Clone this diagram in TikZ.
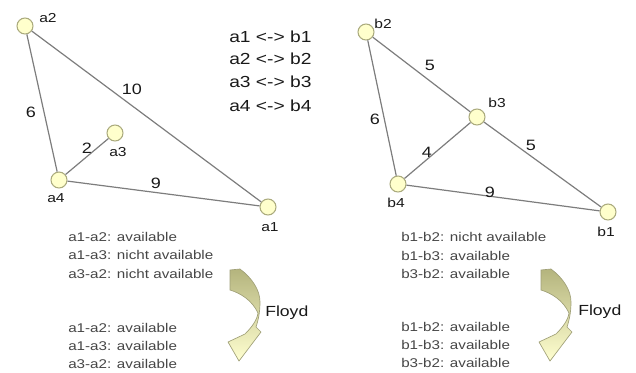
\documentclass[tikz,border=0pt]{standalone}
\usepackage{fontspec}
\setmainfont[FakeStretch=1.2]{Liberation Sans}
\definecolor{edgegray}{RGB}{125,125,125}
\definecolor{vfill}{RGB}{255,255,204}
\definecolor{vdraw}{RGB}{170,170,125}
\definecolor{arrdark}{RGB}{180,180,125}
\definecolor{arrmid}{RGB}{215,215,160}
\definecolor{arrlight}{RGB}{255,255,208}
\definecolor{arrline}{RGB}{160,160,120}
\definecolor{maintext}{RGB}{25,25,25}
\definecolor{listtext}{RGB}{70,70,70}
\begin{document}
\begin{tikzpicture}[x=0.75pt,y=-0.75pt,
  vertex/.style={circle,fill=vfill,draw=vdraw,line width=0.8pt,minimum size=12pt,inner sep=0pt},
  edge/.style={draw=edgegray,line width=0.9pt},
  vname/.style={inner sep=0pt,text=maintext,font=\fontsize{9.75}{11}\selectfont},
  weight/.style={inner sep=0pt,text=maintext,font=\fontsize{11.25}{13}\selectfont},
  pairs/.style={inner sep=0pt,anchor=west,text=maintext,font=\fontsize{12}{14}\selectfont},
  status/.style={inner sep=0pt,anchor=west,text=listtext,font=\fontsize{9.5}{11}\selectfont},
  floydlabel/.style={inner sep=0pt,anchor=west,text=maintext,font=\fontsize{11}{13}\selectfont},
  floydarrow/.style={draw=arrline,line width=0.5pt,top color=arrdark,middle color=arrmid,bottom color=arrlight}
]
\useasboundingbox (0,0) rectangle (636,372);

% left graph
\node[vertex] (a1) at (268,207) {};
\node[vertex] (a2) at (25,26) {};
\node[vertex] (a3) at (115,133) {};
\node[vertex] (a4) at (59,180) {};
\draw[edge] (a2) -- (a1);
\draw[edge] (a2) -- (a4);
\draw[edge] (a4) -- (a3);
\draw[edge] (a4) -- (a1);
\node[vname] (la1) at (270,227) {a1};
\node[vname] (la2) at (48,18) {a2};
\node[vname] (la3) at (118,152) {a3};
\node[vname] (la4) at (56,198) {a4};
\node[weight] (wa26) at (31,112) {6};
\node[weight] (wa21) at (132,89) {10};
\node[weight] (wa43) at (87,148) {2};
\node[weight] (wa41) at (156,183) {9};

% correspondence
\node[pairs] (m1) at (229,37) {a1 <-> b1};
\node[pairs] (m2) at (229,59) {a2 <-> b2};
\node[pairs] (m3) at (229,82) {a3 <-> b3};
\node[pairs] (m4) at (229,106) {a4 <-> b4};

% right graph
\node[vertex] (b1) at (608,212) {};
\node[vertex] (b2) at (366,32) {};
\node[vertex] (b3) at (477,117) {};
\node[vertex] (b4) at (398,184) {};
\draw[edge] (b2) -- (b3);
\draw[edge] (b3) -- (b1);
\draw[edge] (b2) -- (b4);
\draw[edge] (b4) -- (b3);
\draw[edge] (b4) -- (b1);
\node[vname] (lb1) at (606,232) {b1};
\node[vname] (lb2) at (383,24) {b2};
\node[vname] (lb3) at (497,103) {b3};
\node[vname] (lb4) at (396,203) {b4};
\node[weight] (wb23) at (430,65) {5};
\node[weight] (wb24) at (375,119) {6};
\node[weight] (wb43) at (427,152) {4};
\node[weight] (wb31) at (531,145) {5};
\node[weight] (wb41) at (490,192) {9};

% availability lists
\node[status] (sa1) at (68,237) {a1-a2: available};
\node[status] (sa2) at (68,255) {a1-a3: nicht available};
\node[status] (sa3) at (68,274) {a3-a2: nicht available};
\node[status] (ta1) at (68,328) {a1-a2: available};
\node[status] (ta2) at (68,346) {a1-a3: available};
\node[status] (ta3) at (68,364) {a3-a2: available};

\node[status] (sb1) at (401,237) {b1-b2: nicht available};
\node[status] (sb2) at (401,256) {b1-b3: available};
\node[status] (sb3) at (401,274) {b3-b2: available};
\node[status] (tb1) at (401,327) {b1-b2: available};
\node[status] (tb2) at (401,345) {b1-b3: available};
\node[status] (tb3) at (401,363) {b3-b2: available};

% curved Floyd arrows
\foreach \dx in {0,311}{
  \begin{scope}[shift={(\dx,0)}]
    \path[floydarrow] (230,270) -- (240,269)
      .. controls (252,278) and (260,290) .. (260,302)
      .. controls (260,310) and (259,318) .. (256,327)
      -- (261,332) -- (239,361) -- (228,342) -- (245,334)
      .. controls (252,327) and (257,320) .. (258,313)
      .. controls (252,300) and (240,293) .. (230,290) -- cycle;
  \end{scope}
}
\node[floydlabel] (fa) at (265,313) {Floyd};
\node[floydlabel] (fb) at (578,312) {Floyd};
\end{tikzpicture}
\end{document}
